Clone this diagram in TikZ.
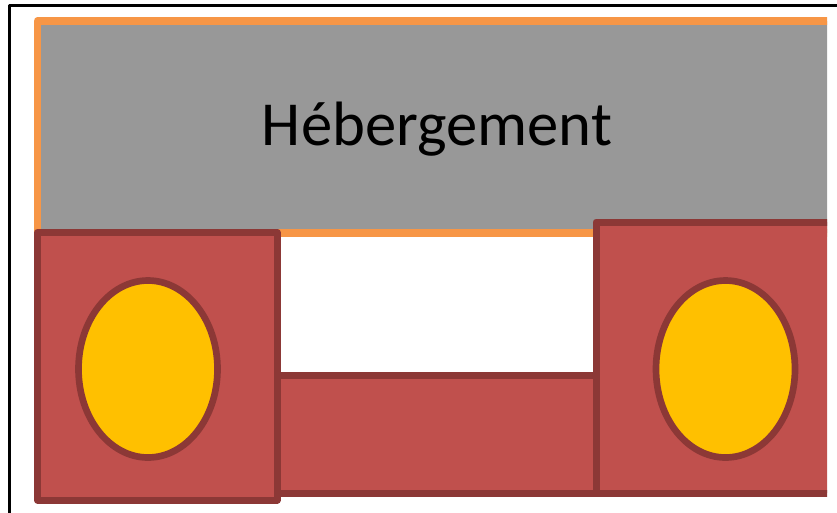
\documentclass[tikz,border=0pt]{standalone}
\usepackage{fontspec}
\setmainfont{Carlito}
\usetikzlibrary{positioning}
\definecolor{hostgray}{RGB}{152,152,152}
\definecolor{hostorange}{RGB}{247,150,70}
\definecolor{brickred}{RGB}{192,80,77}
\definecolor{brickdark}{RGB}{140,56,54}
\definecolor{wheelyellow}{RGB}{255,192,0}

\begin{document}
\begin{tikzpicture}[x=0.75pt, y=-0.75pt, line join=round,
    brick/.style={draw=brickdark, fill=brickred, line width=5.25pt},
    wheel/.style={draw=brickdark, fill=wheelyellow, line width=5pt}]
  \useasboundingbox (0,0) rectangle (837,512);
  \clip (0,0) rectangle (837,512);
  \coordinate (F) at (9.5,5.5);
  \coordinate (Hn) at (37.5,21);
  \coordinate (Hs) at (860,233);
  \coordinate (Ln) at (37.5,232.5);
  \coordinate (Ls) at (277,500);
  \coordinate (Mn) at (277,375);
  \coordinate (Ms) at (596,493);
  \coordinate (Rn) at (596,222);
  \coordinate (Rs) at (860,493);
  \coordinate (WL) at (148,369);
  \coordinate (WR) at (725.5,369);

  % frame
  \draw[line width=1.6pt] (9.5,530) -- (F) -- (850,5.5);

  \begin{scope}
    \clip (0,0) rectangle (827,512);
    \draw[line width=5.6pt, draw=hostorange, fill=hostgray] (Hn) rectangle (Hs);
    \node[anchor=base, font=\fontsize{47}{56}\selectfont] (title) at (437,145) {Hébergement};

    \draw[brick] (Mn) rectangle (Ms);
    \draw[brick] (Ln) rectangle (Ls);
    \draw[brick] (Rn) rectangle (Rs);

    \draw[wheel] (WL) ellipse [x radius=69.5, y radius=88.5];
    \draw[wheel] (WR) ellipse [x radius=69.5, y radius=88.5];
  \end{scope}
\end{tikzpicture}
\end{document}
